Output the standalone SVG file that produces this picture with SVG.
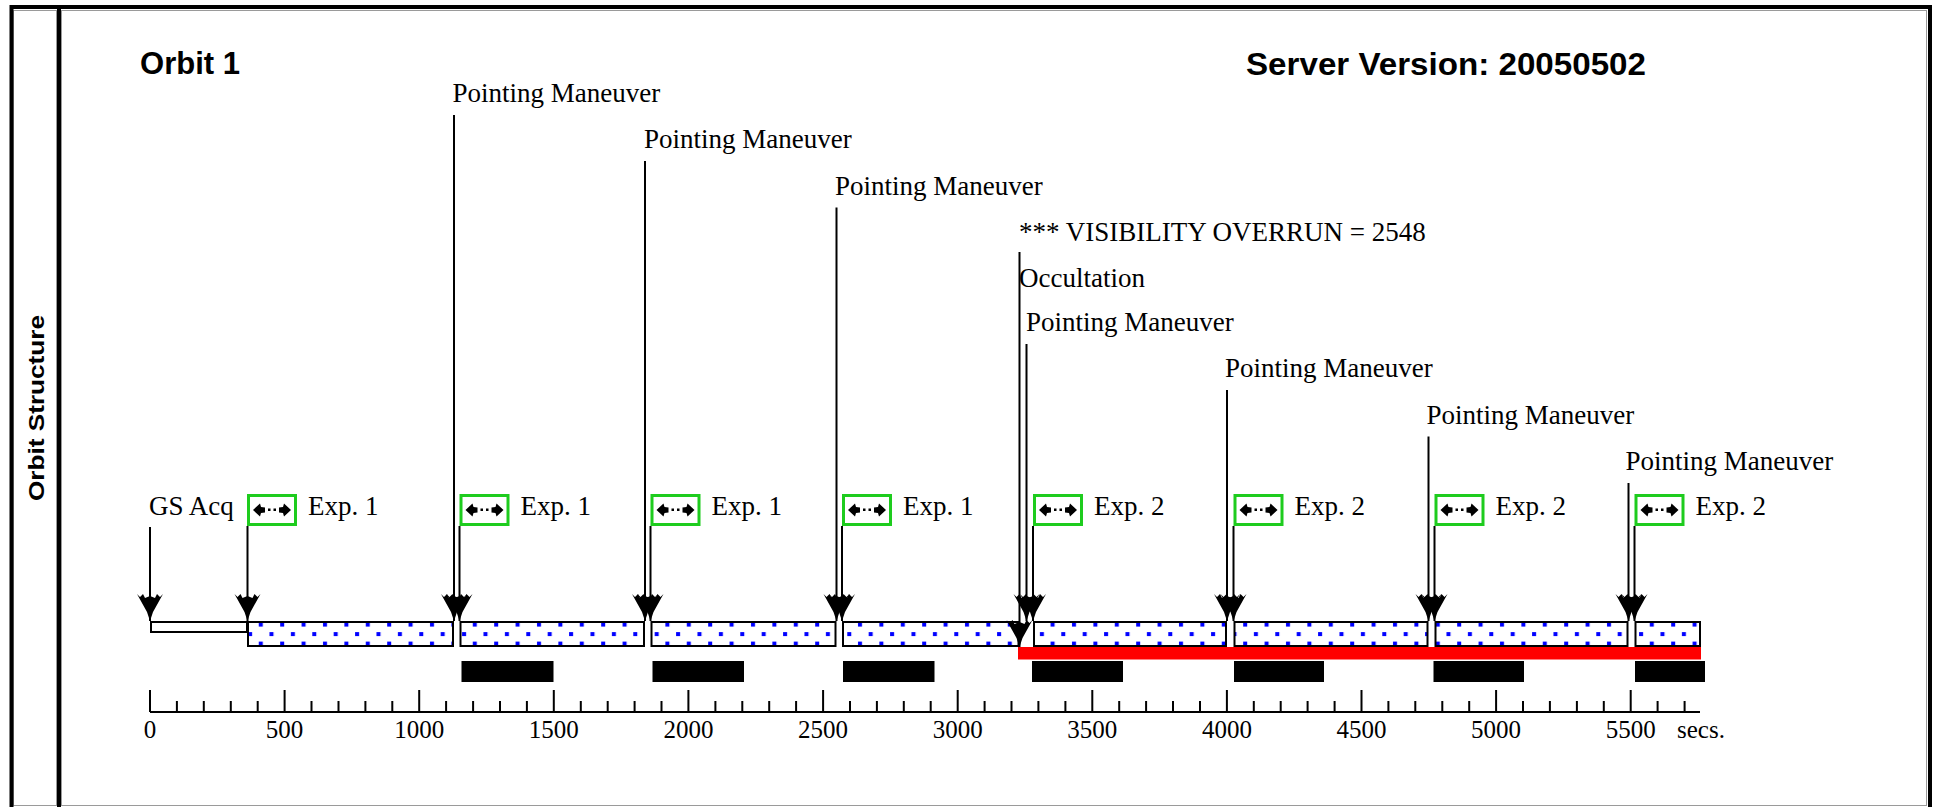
<svg xmlns="http://www.w3.org/2000/svg" width="1939" height="807" viewBox="0 0 1939 807">
<style>
.lbl{font-family:"Liberation Serif","Times New Roman",serif;font-size:27px;fill:#000}
.ax{font-family:"Liberation Serif","Times New Roman",serif;font-size:25px;fill:#000}
.title{font-family:"Liberation Sans",Arial,sans-serif;font-weight:bold;font-size:31px;fill:#000}
.side{font-family:"Liberation Sans",Arial,sans-serif;font-weight:bold;font-size:22px;fill:#000}
.seg{fill:url(#dots);stroke:#000;stroke-width:2}
.blk{fill:#000}
.conn line{stroke:#000;stroke-width:2;marker-end:url(#ah)}
.gbox{fill:#fff;stroke:#1ecc1e;stroke-width:3}
</style>
<defs>
<pattern id="dots" patternUnits="userSpaceOnUse" x="0" y="621" width="21.4" height="19">
<rect width="21.4" height="19" fill="#fff"/>
<rect x="2" y="1.6" width="4" height="4" fill="#0000ff"/>
<rect x="12.7" y="11.1" width="4" height="4" fill="#0000ff"/>
</pattern>
<marker id="ah" markerUnits="userSpaceOnUse" markerWidth="30" markerHeight="30" refX="27" refY="13" orient="auto" viewBox="0 0 30 26">
<path d="M0,0 L3,3 L0,6 L4,8 L2,13 L4,18 L0,20 L3,23 L0,26 L18,16 L27,13 L18,10 Z" fill="#000"/>
</marker>
<g id="exp">
<rect class="gbox" x="1.5" y="1.5" width="47" height="29"/>
<path d="M6,16 L13,9.5 L14,13 L18,13.5 L18,18.5 L14,19 L13,22.5 Z M44,16 L37,9.5 L36,13 L32,13.5 L32,18.5 L36,19 L37,22.5 Z" fill="#000"/>
<rect x="21" y="14.5" width="2.5" height="2.5" fill="#000"/>
<rect x="26.5" y="14.5" width="2.5" height="2.5" fill="#000"/>
</g>
</defs>
<rect x="0" y="0" width="1939" height="807" fill="#fff"/>
<g id="frame">
<rect x="13.5" y="10.5" width="43" height="795" fill="none" stroke="#9a9a9a" stroke-width="1"/>
<rect x="61.5" y="10.5" width="1865" height="795" fill="none" stroke="#9a9a9a" stroke-width="1"/>
<rect x="11.5" y="7" width="1918.5" height="820" fill="none" stroke="#000" stroke-width="4"/>
<line x1="59" y1="7" x2="59" y2="807" stroke="#000" stroke-width="4"/>
<text class="side" transform="translate(44,408) rotate(-90)" text-anchor="middle" textLength="186" lengthAdjust="spacingAndGlyphs">Orbit Structure</text>
</g>
<g id="titles">
<text class="title" x="140" y="74" textLength="100" lengthAdjust="spacingAndGlyphs">Orbit 1</text>
<text class="title" x="1246" y="75" textLength="400" lengthAdjust="spacingAndGlyphs">Server Version: 20050502</text>
</g>
<g id="bars">
<rect x="151" y="622" width="96" height="10" fill="#fff" stroke="#000" stroke-width="2"/>
<rect class="seg" x="248" y="622" width="205" height="24"/>
<rect class="seg" x="460.5" y="622" width="183.5" height="24"/>
<rect class="seg" x="651.5" y="622" width="184" height="24"/>
<rect class="seg" x="843" y="622" width="175.5" height="24"/>
<rect class="seg" x="1034" y="622" width="192" height="24"/>
<rect class="seg" x="1234.5" y="622" width="193" height="24"/>
<rect class="seg" x="1435.5" y="622" width="192" height="24"/>
<rect class="seg" x="1635.5" y="622" width="64.5" height="24"/>
<rect x="1018" y="647" width="683" height="12.5" fill="#ff0000"/>
<rect class="blk" x="461.5" y="661" width="92" height="21"/>
<rect class="blk" x="652.5" y="661" width="91.5" height="21"/>
<rect class="blk" x="843" y="661" width="91.5" height="21"/>
<rect class="blk" x="1032" y="661" width="91" height="21"/>
<rect class="blk" x="1234" y="661" width="90" height="21"/>
<rect class="blk" x="1433.5" y="661" width="90.5" height="21"/>
<rect class="blk" x="1635" y="661" width="70" height="21"/>
</g>
<g id="axis">
<line x1="150" y1="712" x2="1700" y2="712" stroke="#000" stroke-width="2"/>
<path d="M150,690V712M284.6,690V712M419.2,690V712M553.8,690V712M688.4,690V712M823.1,690V712M957.7,690V712M1092.3,690V712M1226.9,690V712M1361.5,690V712M1496.1,690V712M1630.7,690V712" stroke="#000" stroke-width="2"/>
<path d="M176.9,701V712M203.8,701V712M230.8,701V712M257.7,701V712M311.5,701V712M338.5,701V712M365.4,701V712M392.3,701V712M446.1,701V712M473.1,701V712M500,701V712M526.9,701V712M580.8,701V712M607.7,701V712M634.6,701V712M661.5,701V712M715.4,701V712M742.3,701V712M769.2,701V712M796.1,701V712M850,701V712M876.9,701V712M903.8,701V712M930.7,701V712M984.6,701V712M1011.5,701V712M1038.4,701V712M1065.4,701V712M1119.2,701V712M1146.1,701V712M1173,701V712M1200,701V712M1253.8,701V712M1280.7,701V712M1307.6,701V712M1334.6,701V712M1388.4,701V712M1415.3,701V712M1442.3,701V712M1469.2,701V712M1523,701V712M1549.9,701V712M1576.9,701V712M1603.8,701V712M1657.6,701V712M1684.6,701V712" stroke="#000" stroke-width="2"/>
<g class="ax" text-anchor="middle">
<text x="150" y="738">0</text>
<text x="284.6" y="738">500</text>
<text x="419.2" y="738">1000</text>
<text x="553.8" y="738">1500</text>
<text x="688.4" y="738">2000</text>
<text x="823.1" y="738">2500</text>
<text x="957.7" y="738">3000</text>
<text x="1092.3" y="738">3500</text>
<text x="1226.9" y="738">4000</text>
<text x="1361.5" y="738">4500</text>
<text x="1496.1" y="738">5000</text>
<text x="1630.7" y="738">5500</text>
</g>
<text class="ax" x="1677" y="738">secs.</text>
</g>
<g id="connectors" class="conn">
<line x1="150" y1="527" x2="150" y2="621"/>
<line x1="247.5" y1="526" x2="247.5" y2="621"/>
<line x1="454" y1="115" x2="454" y2="621"/>
<line x1="459.5" y1="526" x2="459.5" y2="621"/>
<line x1="645" y1="161" x2="645" y2="621"/>
<line x1="650.5" y1="526" x2="650.5" y2="621"/>
<line x1="836.5" y1="207.5" x2="836.5" y2="621"/>
<line x1="842" y1="526" x2="842" y2="621"/>
<line x1="1019.5" y1="252" x2="1019.5" y2="647"/>
<line x1="1026.5" y1="344" x2="1026.5" y2="621"/>
<line x1="1033" y1="526" x2="1033" y2="621"/>
<line x1="1227" y1="390" x2="1227" y2="621"/>
<line x1="1233.5" y1="526" x2="1233.5" y2="621"/>
<line x1="1428.5" y1="436.5" x2="1428.5" y2="621"/>
<line x1="1434.5" y1="526" x2="1434.5" y2="621"/>
<line x1="1628.5" y1="483" x2="1628.5" y2="621"/>
<line x1="1634.5" y1="526" x2="1634.5" y2="621"/>
</g>
<g id="events" class="lbl">
<text x="452.5" y="102">Pointing Maneuver</text>
<text x="644" y="148.2">Pointing Maneuver</text>
<text x="835" y="194.5">Pointing Maneuver</text>
<text x="1019" y="240.7">*** VISIBILITY OVERRUN = 2548</text>
<text x="1019" y="286.7">Occultation</text>
<text x="1026" y="331">Pointing Maneuver</text>
<text x="1225" y="377.3">Pointing Maneuver</text>
<text x="1426.5" y="423.5">Pointing Maneuver</text>
<text x="1625.5" y="469.7">Pointing Maneuver</text>
<text x="149" y="515">GS Acq</text>
</g>
<g id="exposures">
<g id="exp1"><use href="#exp" x="247" y="494"/><text class="lbl" x="308" y="515">Exp. 1</text></g>
<g id="exp2"><use href="#exp" x="459.5" y="494"/><text class="lbl" x="520.5" y="515">Exp. 1</text></g>
<g id="exp3"><use href="#exp" x="650.5" y="494"/><text class="lbl" x="711.5" y="515">Exp. 1</text></g>
<g id="exp4"><use href="#exp" x="842" y="494"/><text class="lbl" x="903" y="515">Exp. 1</text></g>
<g id="exp5"><use href="#exp" x="1033" y="494"/><text class="lbl" x="1094" y="515">Exp. 2</text></g>
<g id="exp6"><use href="#exp" x="1233.5" y="494"/><text class="lbl" x="1294.5" y="515">Exp. 2</text></g>
<g id="exp7"><use href="#exp" x="1434.5" y="494"/><text class="lbl" x="1495.5" y="515">Exp. 2</text></g>
<g id="exp8"><use href="#exp" x="1634.5" y="494"/><text class="lbl" x="1695.5" y="515">Exp. 2</text></g>
</g>
</svg>
